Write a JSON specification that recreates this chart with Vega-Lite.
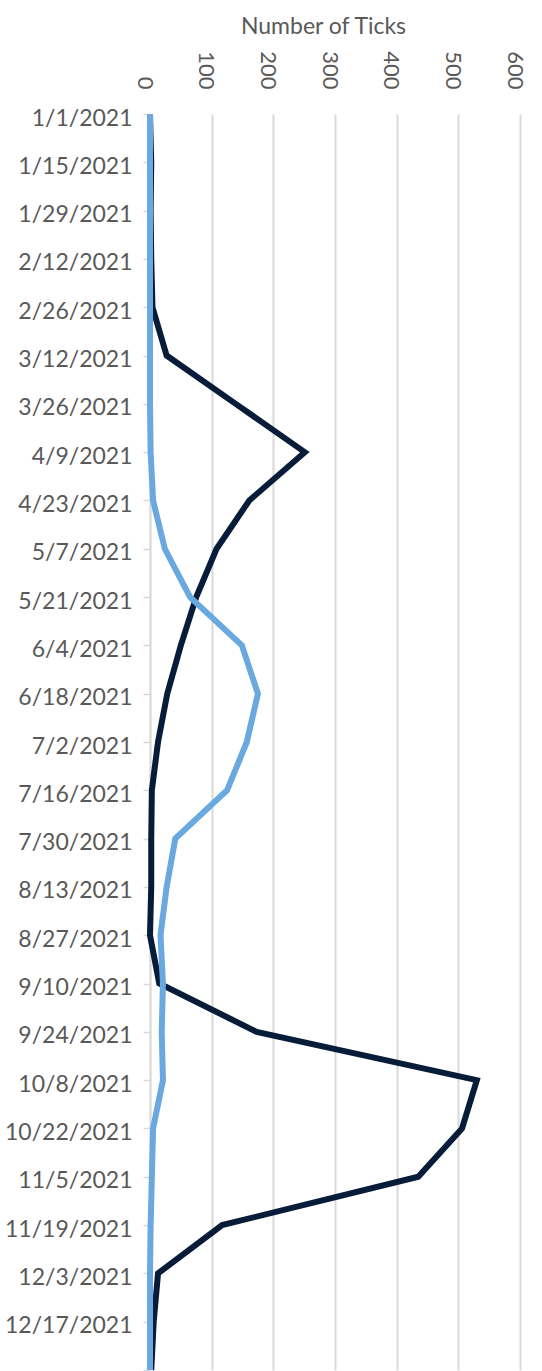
{
  "$schema": "https://vega.github.io/schema/vega-lite/v6.json",
  "width": 370,
  "height": 1256,
  "autosize": {"type": "none"},
  "padding": {"left": 150, "top": 114, "right": 22, "bottom": 1},
  "config": {"view": {"stroke": null}, "font": "Lato"},
  "data": {"values": [
    {"date": "1/1/2021", "series": "A", "value": 0},
    {"date": "1/15/2021", "series": "A", "value": 2},
    {"date": "1/29/2021", "series": "A", "value": 1},
    {"date": "2/12/2021", "series": "A", "value": 2},
    {"date": "2/26/2021", "series": "A", "value": 4},
    {"date": "3/12/2021", "series": "A", "value": 27},
    {"date": "3/26/2021", "series": "A", "value": 139},
    {"date": "4/9/2021", "series": "A", "value": 251},
    {"date": "4/23/2021", "series": "A", "value": 161},
    {"date": "5/7/2021", "series": "A", "value": 108},
    {"date": "5/21/2021", "series": "A", "value": 75},
    {"date": "6/4/2021", "series": "A", "value": 50},
    {"date": "6/18/2021", "series": "A", "value": 28},
    {"date": "7/2/2021", "series": "A", "value": 13},
    {"date": "7/16/2021", "series": "A", "value": 3},
    {"date": "7/30/2021", "series": "A", "value": 2},
    {"date": "8/13/2021", "series": "A", "value": 2},
    {"date": "8/27/2021", "series": "A", "value": 0},
    {"date": "9/10/2021", "series": "A", "value": 15},
    {"date": "9/24/2021", "series": "A", "value": 173},
    {"date": "10/8/2021", "series": "A", "value": 530},
    {"date": "10/22/2021", "series": "A", "value": 506},
    {"date": "11/5/2021", "series": "A", "value": 435},
    {"date": "11/19/2021", "series": "A", "value": 117},
    {"date": "12/3/2021", "series": "A", "value": 13},
    {"date": "12/17/2021", "series": "A", "value": 6},
    {"date": "12/31/2021", "series": "A", "value": 2},
    {"date": "1/1/2021", "series": "B", "value": 0},
    {"date": "1/15/2021", "series": "B", "value": 0},
    {"date": "1/29/2021", "series": "B", "value": 0},
    {"date": "2/12/2021", "series": "B", "value": 0},
    {"date": "2/26/2021", "series": "B", "value": 0},
    {"date": "3/12/2021", "series": "B", "value": 0},
    {"date": "3/26/2021", "series": "B", "value": 0},
    {"date": "4/9/2021", "series": "B", "value": 1},
    {"date": "4/23/2021", "series": "B", "value": 5},
    {"date": "5/7/2021", "series": "B", "value": 24},
    {"date": "5/21/2021", "series": "B", "value": 65},
    {"date": "6/4/2021", "series": "B", "value": 149},
    {"date": "6/18/2021", "series": "B", "value": 175},
    {"date": "7/2/2021", "series": "B", "value": 157},
    {"date": "7/16/2021", "series": "B", "value": 125},
    {"date": "7/30/2021", "series": "B", "value": 41},
    {"date": "8/13/2021", "series": "B", "value": 27},
    {"date": "8/27/2021", "series": "B", "value": 17},
    {"date": "9/10/2021", "series": "B", "value": 21},
    {"date": "9/24/2021", "series": "B", "value": 19},
    {"date": "10/8/2021", "series": "B", "value": 21},
    {"date": "10/22/2021", "series": "B", "value": 5},
    {"date": "11/5/2021", "series": "B", "value": 3},
    {"date": "11/19/2021", "series": "B", "value": 1},
    {"date": "12/3/2021", "series": "B", "value": 0},
    {"date": "12/17/2021", "series": "B", "value": 0},
    {"date": "12/31/2021", "series": "B", "value": 0}
  ]},
  "mark": {"type": "line", "strokeWidth": 6, "strokeJoin": "miter", "strokeCap": "butt"},
  "encoding": {
    "y": {
      "field": "date", "type": "ordinal", "sort": null,
      "scale": {"type": "point", "padding": 0},
      "axis": {
        "title": null,
        "labelExpr": "datum.label == '12/31/2021' ? '' : datum.label",
        "labelFont": "Lato", "labelFontSize": 23, "labelColor": "#595959",
        "labelPadding": 11, "labelOffset": 4, "labelOverlap": false,
        "tickSize": 7, "tickColor": "#d9d9d9", "tickWidth": 1.5,
        "domainColor": "#d9d9d9", "domainWidth": 1.5, "grid": false
      }
    },
    "x": {
      "field": "value", "type": "quantitative",
      "scale": {"domain": [0, 600], "nice": false},
      "axis": {
        "orient": "top", "title": "Number of Ticks",
        "values": [0, 100, 200, 300, 400, 500, 600],
        "labelAngle": 90, "labelAlign": "right", "labelBaseline": "middle",
        "labelPadding": 25, "labelOffset": -6, "labelFlush": false, "labelOverlap": false,
        "labelFont": "Lato", "labelFontSize": 22, "labelColor": "#595959",
        "ticks": false, "domain": false,
        "grid": true, "gridColor": "#d9d9d9", "gridWidth": 2,
        "titleFont": "Lato", "titleFontSize": 23, "titleFontWeight": "normal", "titleColor": "#595959",
        "titleX": 173, "titleY": -81, "titleBaseline": "alphabetic", "titleAlign": "center"
      }
    },
    "color": {
      "field": "series", "type": "nominal",
      "scale": {"domain": ["A", "B"], "range": ["#071c38", "#6aa8e0"]},
      "legend": null
    }
  }
}
